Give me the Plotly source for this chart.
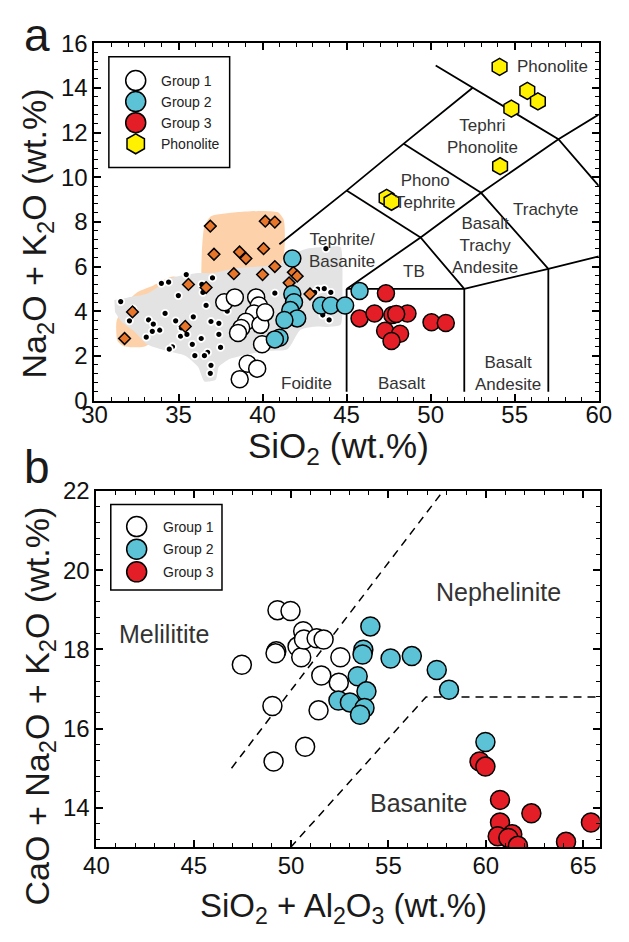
import plotly.graph_objects as go

W, H = 629, 942
FONT = "Liberation Sans, Arial, sans-serif"

# ---------------- Panel a: total alkali vs silica ----------------
g1_sio2 = [37.72, 38.35, 39.62, 39.78, 39.49, 39.01, 39.87, 38.73, 38.54, 39.97, 39.11, 39.68, 38.64, 40.15]
g1_alk = [4.40, 4.62, 4.62, 4.26, 3.90, 3.53, 3.39, 3.25, 3.03, 2.52, 1.65, 1.43, 0.96, 3.95]

g2_sio2 = [41.77, 41.77, 41.87, 41.65, 42.06, 41.30, 41.01, 40.73, 43.49, 44.06, 44.91, 45.77]
g2_alk = [6.36, 4.77, 4.40, 4.05, 3.68, 3.61, 2.81, 2.74, 4.26, 4.26, 4.26, 4.91]

g3_sio2 = [47.34, 45.77, 46.66, 47.72, 48.62, 47.29, 48.18, 47.67, 50.05, 50.90, 47.95]
g3_alk = [4.80, 3.68, 3.90, 3.83, 3.90, 3.13, 2.99, 2.67, 3.51, 3.47, 3.88]

phon_sio2 = [54.10, 55.75, 56.38, 54.80, 54.13, 47.38, 47.67]
phon_alk = [14.94, 13.86, 13.39, 13.07, 10.49, 9.07, 8.90]

ref_diam_sio2 = [36.89, 40.16, 40.73, 37.11, 38.63, 39.01, 40.06, 40.73, 38.29, 40.00,
                 41.83, 42.06, 41.58, 35.59, 36.64, 42.82, 32.26, 35.40, 31.79]
ref_diam_alk = [7.81, 8.03, 7.99, 6.55, 6.65, 6.36, 6.80, 6.00, 5.68, 5.64,
                5.74, 5.57, 5.27, 5.20, 5.06, 4.77, 3.97, 3.32, 2.78]

ref_dot_sio2 = [31.56, 32.08, 33.22, 33.50, 33.88, 33.08, 33.98, 34.41, 35.46, 34.99,
                34.83, 35.12, 34.64, 35.97, 36.45, 36.39, 37.02, 36.64, 36.93, 37.40,
                36.35, 37.50, 36.73, 36.93, 36.89, 35.82, 35.50, 40.73, 43.77, 43.39,
                44.06, 43.96, 35.88, 35.17, 33.44, 34.45, 37.40, 36.54, 43.29, 43.67,
                43.58, 43.10, 32.30, 34.20, 37.90]
ref_dot_alk = [4.43, 3.57, 3.61, 3.42, 3.15, 2.84, 5.25, 5.30, 5.64, 4.70,
               3.57, 2.88, 2.41, 2.01, 4.84, 5.20, 5.49, 4.26, 3.54, 3.46,
               2.78, 2.38, 2.16, 1.58, 1.22, 2.52, 2.96, 4.81, 6.80, 4.99,
               4.84, 3.61, 3.75, 3.25, 3.10, 2.30, 2.96, 2.01, 4.99, 5.01,
               3.83, 4.84, 4.10, 3.90, 4.00]

# shaded compositional fields
orange_field_sio2 = [36.35, 36.39, 36.54, 36.93, 38.44, 39.97, 40.92, 41.26, 41.33, 41.26,
                     41.01, 39.40, 35.59, 34.64, 33.50, 32.55, 31.79, 31.31, 31.37, 31.79,
                     32.93, 33.50, 34.64, 36.54]
orange_field_alk = [5.57, 6.72, 7.81, 8.25, 8.43, 8.49, 8.43, 8.10, 7.30, 6.43,
                    6.00, 5.71, 5.42, 5.55, 5.15, 4.85, 4.30, 3.54, 2.67, 2.42,
                    2.41, 2.67, 3.83, 4.55]

gray_field_sio2 = [31.18, 32.00, 33.12, 34.64, 36.16, 37.11, 38.44, 39.78, 41.11, 41.77,
                   42.63, 44.15, 44.64, 44.75, 44.64, 43.96, 43.20, 42.25, 41.49, 40.35,
                   39.21, 38.07, 37.40, 37.21, 36.54, 36.16, 35.40, 34.26, 33.12, 32.36,
                   31.60, 31.22]
gray_field_alk = [4.50, 4.62, 4.78, 5.50, 5.71, 5.71, 5.93, 6.00, 6.14, 6.55,
                  6.80, 6.90, 6.87, 5.13, 3.39, 3.30, 3.32, 3.17, 2.30, 2.23,
                  2.09, 1.87, 1.51, 0.93, 0.86, 1.51, 2.01, 2.23, 2.52, 3.10,
                  3.54, 3.97]

# TAS field boundaries (polylines, SiO2 / Na2O+K2O)
tas_boundaries = [
    [(45, 0.4), (45, 5)],
    [(52, 0.4), (52, 5)],
    [(57, 0.4), (57, 5.9)],
    [(45, 5), (52, 5), (57, 5.9), (60, 6.45)],
    [(45, 5), (49.4, 7.3), (52, 5)],
    [(49.4, 7.3), (53, 9.3), (57, 5.9)],
    [(53, 9.3), (57.6, 11.7), (60, 12.8)],
    [(41, 7), (45, 9.4), (48.4, 11.5), (52.5, 14)],
    [(45, 9.4), (49.4, 7.3)],
    [(48.4, 11.5), (53, 9.3)],
    [(50.3, 15.0), (52.5, 14), (57.6, 11.7), (60, 9.61)],
]

tas_names = ["Phonolite", "Tephri<br>Phonolite", "Phono<br>Tephrite", "Trachyte",
             "Basalt<br>Trachy<br>Andesite", "Tephrite/<br>Basanite", "TB",
             "Foidite", "Basalt", "Basalt<br>Andesite"]
tas_name_x = [57.25, 53.1, 49.66, 56.85, 53.25, 44.7, 49.0, 42.6, 48.3, 54.6]
tas_name_y = [14.96, 11.83, 9.35, 8.56, 6.96, 6.74, 5.78, 0.78, 0.78, 1.2]

# ---------------- Panel b: CaO+Na2O+K2O vs SiO2+Al2O3 ----------------
g1_sa = [47.47, 49.30, 49.97, 50.62, 50.33, 50.52, 50.66, 51.31, 51.67, 49.24,
         49.20, 52.53, 51.55, 52.45, 49.04, 51.41, 50.72, 49.10]
g1_can = [17.61, 18.99, 18.97, 18.46, 18.07, 17.80, 18.25, 18.28, 18.25, 17.95,
          17.90, 17.80, 17.34, 17.16, 16.57, 16.46, 15.54, 15.17]

g2_sa = [54.07, 53.71, 53.67, 55.11, 56.20, 57.48, 58.11, 53.42, 53.87, 52.43,
         53.02, 53.77, 53.54, 59.98]
g2_can = [18.58, 17.99, 17.87, 17.77, 17.83, 17.48, 16.98, 17.32, 16.94, 16.71,
          16.66, 16.52, 16.35, 15.66]

g3_sa = [59.68, 59.98, 60.73, 62.34, 60.73, 60.61, 61.36, 61.16, 61.65, 64.12, 65.40]
g3_can = [15.17, 15.04, 14.20, 13.86, 13.63, 13.28, 13.33, 13.24, 13.04, 13.14, 13.63]

b_boundaries = [
    [(46.94, 15.0), (57.81, 22.0)],
    [(49.97, 13.0), (56.93, 16.80), (65.85, 16.80)],
]
b_names = ["Melilitite", "Nephelinite", "Basanite"]
b_name_x = [43.47, 60.67, 56.53]
b_name_y = [18.40, 19.44, 14.12]

# ---------------- styling ----------------
WHITE = "#FFFFFF"
BLUE = "#5CC3D6"
RED = "#E41E26"
YELLOW = "#FFF100"
ORANGE = "#E8762A"
PEACH = "#FDD2AA"
LIGHTGRAY = "#E3E3E3"
EDGE = dict(color="black", width=1.5)


def polyline(segments):
    xs, ys = [], []
    for seg in segments:
        for px, py in seg:
            xs.append(px)
            ys.append(py)
        xs.append(None)
        ys.append(None)
    return xs, ys


fig = go.Figure()

# panel a fields
fig.add_trace(go.Scatter(x=orange_field_sio2, y=orange_field_alk, mode="lines", fill="toself",
                         fillcolor=PEACH, line=dict(width=0, shape="spline", smoothing=0.6),
                         hoverinfo="skip", showlegend=False, xaxis="x", yaxis="y"))
fig.add_trace(go.Scatter(x=gray_field_sio2, y=gray_field_alk, mode="lines", fill="toself",
                         fillcolor=LIGHTGRAY, line=dict(width=0, shape="spline", smoothing=0.6),
                         hoverinfo="skip", showlegend=False, xaxis="x", yaxis="y"))

tx, ty = polyline(tas_boundaries)
fig.add_trace(go.Scatter(x=tx, y=ty, mode="lines", line=dict(color="black", width=1.8),
                         hoverinfo="skip", showlegend=False, xaxis="x", yaxis="y"))

fig.add_trace(go.Scatter(x=ref_dot_sio2, y=ref_dot_alk, mode="markers",
                         marker=dict(size=7, color="black", line=dict(color="white", width=1.8)),
                         showlegend=False, xaxis="x", yaxis="y"))
fig.add_trace(go.Scatter(x=ref_diam_sio2, y=ref_diam_alk, mode="markers",
                         marker=dict(symbol="diamond", size=9, color=ORANGE, line=EDGE),
                         showlegend=False, xaxis="x", yaxis="y"))

for xs, ys, col, name in [(g1_sio2, g1_alk, WHITE, "Group 1"),
                          (g2_sio2, g2_alk, BLUE, "Group 2"),
                          (g3_sio2, g3_alk, RED, "Group 3")]:
    fig.add_trace(go.Scatter(x=xs, y=ys, mode="markers", name=name,
                             marker=dict(size=17, color=col, line=EDGE),
                             showlegend=False, xaxis="x", yaxis="y"))
fig.add_trace(go.Scatter(x=phon_sio2, y=phon_alk, mode="markers", name="Phonolite",
                         marker=dict(symbol="hexagon", size=17, color=YELLOW, line=EDGE),
                         showlegend=False, xaxis="x", yaxis="y"))

# panel b
bx, by = polyline(b_boundaries)
fig.add_trace(go.Scatter(x=bx, y=by, mode="lines",
                         line=dict(color="black", width=1.5, dash="8px,6px"),
                         hoverinfo="skip", showlegend=False, xaxis="x2", yaxis="y2"))
for xs, ys, col, name in [(g1_sa, g1_can, WHITE, "Group 1"),
                          (g2_sa, g2_can, BLUE, "Group 2"),
                          (g3_sa, g3_can, RED, "Group 3")]:
    fig.add_trace(go.Scatter(x=xs, y=ys, mode="markers", name=name,
                             marker=dict(size=19, color=col, line=EDGE),
                             showlegend=False, xaxis="x2", yaxis="y2"))


def fx(px):
    return px / W


def fy(py):
    return 1 - py / H


axis_style = dict(showline=True, linecolor="black", linewidth=2, mirror="ticks",
                  ticks="inside", ticklen=7, tickwidth=1.5, tickcolor="black",
                  showgrid=False, zeroline=False,
                  tickfont=dict(size=24, family=FONT, color="#111"))


def minor(step):
    return dict(dtick=step, ticks="inside", ticklen=4, tickwidth=1.2, tickcolor="black", showgrid=False)


fig.update_layout(
    width=W, height=H, margin=dict(l=0, r=0, t=0, b=0),
    paper_bgcolor="white", plot_bgcolor="white", showlegend=False,
    font=dict(family=FONT, color="#222"),
    xaxis=dict(domain=[fx(85), fx(611)], range=[30, 60], tick0=30, dtick=5, minor=minor(1),
               anchor="y", ticklabelstandoff=-8, **axis_style),
    yaxis=dict(domain=[fy(398), fy(30)], range=[0, 16], tick0=0, dtick=2, minor=minor(0.4),
               anchor="x", **axis_style),
    xaxis2=dict(domain=[fx(87), fx(612)], range=[40, 65.85], tick0=40, dtick=5, minor=minor(1),
                anchor="y2", ticklabelstandoff=-4, **axis_style),
    yaxis2=dict(domain=[fy(858), fy(491)], range=[13, 22], tick0=0, dtick=2, minor=minor(0.4),
                anchor="x2", **axis_style),
)

ann = []
for t, x, y in zip(tas_names, tas_name_x, tas_name_y):
    ann.append(dict(text=t, x=x, y=y, xref="x", yref="y", showarrow=False,
                    font=dict(size=17, family=FONT, color="#333")))
for t, x, y in zip(b_names, b_name_x, b_name_y):
    ann.append(dict(text=t, x=x, y=y, xref="x2", yref="y2", showarrow=False,
                    font=dict(size=25, family=FONT, color="#333")))

# axis titles and panel letters
titles = [
    ("Na<sub>2</sub>O + K<sub>2</sub>O (wt.%)", 25, 226, -90, 34),
    ("SiO<sub>2</sub> (wt.%)", 340, 447, 0, 35),
    ("CaO + Na<sub>2</sub>O + K<sub>2</sub>O (wt.%)", 28, 712, -90, 34),
    ("SiO<sub>2</sub> + Al<sub>2</sub>O<sub>3</sub> (wt.%)", 345, 920, 0, 33),
    ("a", 25, 22, 0, 46),
    ("b", 25, 466, 0, 46),
]
for t, px, py, ang, sz in titles:
    ann.append(dict(text=t, x=fx(px), y=fy(py), xref="paper", yref="paper", showarrow=False,
                    textangle=ang, xanchor="center", yanchor="middle",
                    font=dict(size=sz, family=FONT, color="#1a1a1a")))

# legends
shapes = []


def legend_box(x0, y0, x1, y1, entries, mx, tx, first_y, step):
    shapes.append(dict(type="rect", xref="paper", yref="paper", x0=fx(x0), x1=fx(x1),
                       y0=fy(y1), y1=fy(y0), line=dict(color="black", width=1.5),
                       fillcolor="white", layer="above"))
    for i, (label, col, sym) in enumerate(entries):
        cy = first_y + i * step
        common = dict(xref="paper", yref="paper", xsizemode="pixel", ysizemode="pixel",
                      xanchor=fx(mx), yanchor=fy(cy), fillcolor=col,
                      line=dict(color="black", width=1.5), layer="above")
        if sym == "hexagon":
            shapes.append(dict(type="path",
                               path="M 0,-10 L 8.7,-5 L 8.7,5 L 0,10 L -8.7,5 L -8.7,-5 Z",
                               **common))
        else:
            shapes.append(dict(type="circle", x0=-10, x1=10, y0=-10, y1=10, **common))
        ann.append(dict(text=label, x=fx(tx), y=fy(cy), xref="paper", yref="paper",
                        showarrow=False, xanchor="left", yanchor="middle",
                        font=dict(size=14, family=FONT, color="#222")))


legend_box(100, 44, 226, 158,
           [("Group 1", WHITE, "circle"), ("Group 2", BLUE, "circle"),
            ("Group 3", RED, "circle"), ("Phonolite", YELLOW, "hexagon")],
           128, 152, 68.5, 21.7)
legend_box(102, 505, 218, 593,
           [("Group 1", WHITE, "circle"), ("Group 2", BLUE, "circle"),
            ("Group 3", RED, "circle")],
           129, 154, 527.7, 23.3)

fig.update_layout(annotations=ann, shapes=shapes)
fig.write_html("out.html")
